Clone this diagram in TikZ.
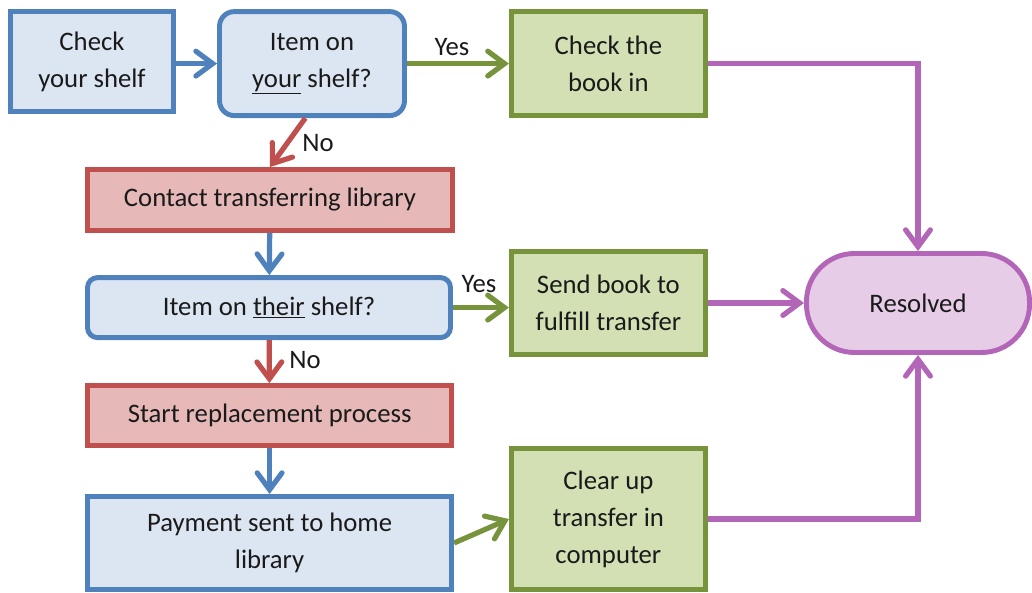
\documentclass[tikz,border=0pt]{standalone}
\usepackage{fontspec}
\setmainfont{Carlito}
\usetikzlibrary{arrows.meta,positioning}
\definecolor{bl}{HTML}{4F81BD}
\definecolor{blf}{HTML}{DCE6F2}
\definecolor{rd}{HTML}{C0504D}
\definecolor{rdf}{HTML}{E6B9B8}
\definecolor{gr}{HTML}{77933C}
\definecolor{grf}{HTML}{D2E0B4}
\definecolor{pu}{HTML}{B366B8}
\definecolor{puf}{HTML}{E6CCE6}
\definecolor{txt}{HTML}{1A1A1A}

\begin{document}
\begin{tikzpicture}[
    box/.style={rectangle,draw=#1,fill=#1f,line width=3.5pt,align=center,inner sep=0pt,text=txt,font=\fontsize{19pt}{26.3pt}\selectfont},
    lbl/.style={text=txt,font=\fontsize{19pt}{26.3pt}\selectfont},
    arr/.style={-{Straight Barb[length=0.42cm,width=0.62cm,line cap=round]},line width=3.7pt,draw=#1},
]
\useasboundingbox (0,0) rectangle (25.8,14.8);

% Your shelf
\node[box=bl,minimum width=4.075cm,minimum height=2.5cm] (check) at (2.3,13.26) {Check\\your shelf};
\node[box=bl,rounded corners=0.37cm,minimum width=4.625cm,minimum height=2.6cm] (item1) at (7.8,13.21) {Item on\\\underline{your} shelf?};
\node[box=gr,minimum width=4.85cm,minimum height=2.6cm] (checkin) at (15.21,13.21) {Check the\\book in};

% Their shelf
\node[box=rd,minimum width=9.125cm,minimum height=1.525cm] (contact) at (6.75,9.8) {Contact transferring library};
\node[box=bl,rounded corners=0.25cm,minimum width=9.075cm,minimum height=1.5cm] (item2) at (6.725,7.11) {Item on \underline{their} shelf?};
\node[box=gr,minimum width=4.85cm,minimum height=2.575cm] (send) at (15.21,7.225) {Send book to\\fulfill transfer};

% Replacement
\node[box=rd,minimum width=9.1cm,minimum height=1.5cm] (start) at (6.74,4.41) {Start replacement process};
\node[box=bl,minimum width=9.1cm,minimum height=2.325cm] (payment) at (6.74,1.225) {Payment sent to home\\library};
\node[box=gr,minimum width=4.85cm,minimum height=3.525cm] (clear) at (15.21,1.825) {Clear up\\transfer in\\computer};

% End
\node[box=pu,rounded corners=1.2cm,minimum width=5.575cm,minimum height=2.475cm] (resolved) at (22.95,7.225) {Resolved};

% Labels
\node[lbl] (yes1) at (11.3,13.63) {Yes};
\node[lbl] (no1) at (7.95,11.225) {No};
\node[lbl] (yes2) at (11.975,7.7) {Yes};
\node[lbl] (no2) at (7.625,5.8) {No};

% Flow
\draw[arr=bl] (check.east |- item1) -- (item1.west);
\draw[arr=gr] (item1.east) -- (item1.east -| checkin.west);
\draw[arr=rd] (item1.263) -- (contact.north);
\draw[arr=bl] (contact) -- (item2);
\draw[arr=gr] (item2.east) -- (item2.east -| send.west);
\draw[arr=rd] (item2) -- (start);
\draw[arr=bl] (start) -- (payment);
\draw[arr=gr] (payment.east) -- (clear.west);

% To resolved
\draw[arr=pu] (checkin.east) -| (resolved.north);
\draw[arr=pu] (send) -- (resolved);
\draw[arr=pu] (clear.east) -| (resolved.south);
\end{tikzpicture}
\end{document}
